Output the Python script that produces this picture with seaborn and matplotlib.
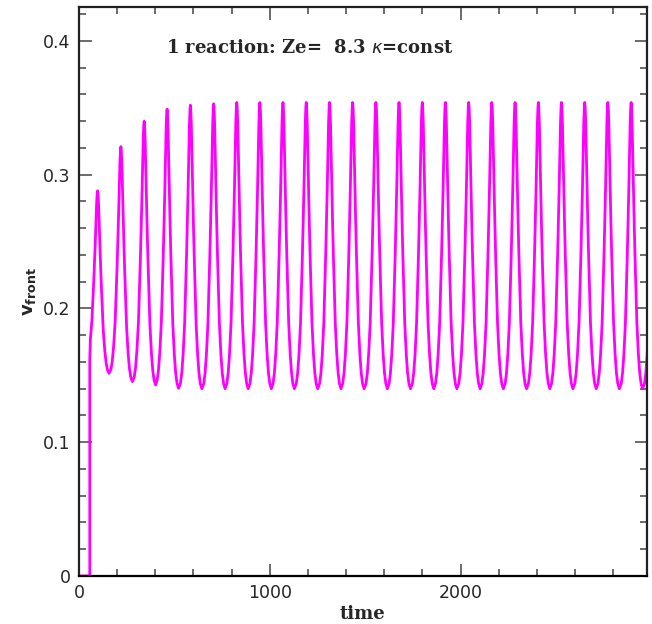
import numpy as np
import pandas as pd
import matplotlib
matplotlib.use('Agg')
import matplotlib.pyplot as plt
from matplotlib.ticker import MultipleLocator, FuncFormatter
import seaborn as sns

# valores
t_ignicao = 57.0          # instante do salto de 0 para v0
v_inicial = 0.1615
tempos_pico = [98, 220, 342, 462, 584, 706, 827, 948, 1069, 1191, 1313, 1434,
               1556, 1677, 1799, 1920, 2042, 2163, 2285, 2407, 2528, 2650, 2771, 2893,
               3015]
valores_pico = [0.288, 0.321, 0.340, 0.349, 0.352, 0.353, 0.354, 0.354, 0.354,
                0.354, 0.354, 0.354, 0.354, 0.354, 0.354, 0.354, 0.354, 0.354,
                0.354, 0.354, 0.354, 0.354, 0.354, 0.354, 0.354]
# vale depois de cada pico
valores_vale = [0.1515, 0.1453, 0.1428, 0.1403, 0.140, 0.140, 0.140, 0.140, 0.140,
                0.140, 0.140, 0.140, 0.140, 0.140, 0.140, 0.140, 0.140, 0.140,
                0.140, 0.140, 0.140, 0.140, 0.140, 0.140]
# perfil de um ciclo (tempo relativo ao pico, fração entre vale e pico)
perfil_dt = [-60, -52, -45, -38, -30, -25, -20, -16, -12, -8, -5, -2, 0,
             2, 5, 8, 12, 16, 20, 25, 30, 38, 45, 52, 60]
perfil_f = [0.0, 0.018, 0.055, 0.12, 0.23, 0.35, 0.47, 0.58, 0.70, 0.83, 0.93, 0.985, 1.0,
            0.985, 0.93, 0.83, 0.70, 0.58, 0.47, 0.35, 0.23, 0.12, 0.055, 0.018, 0.0]

# monta a curva
t = [0.0, t_ignicao, t_ignicao]
v = [0.0, 0.0, v_inicial]
for i, (tp, vp) in enumerate(zip(tempos_pico, valores_pico)):
    v_antes = v_inicial if i == 0 else valores_vale[i - 1]
    v_depois = valores_vale[i] if i < len(valores_vale) else 0.140
    for dt, f in zip(perfil_dt, perfil_f):
        if dt < 0:
            if i > 0 and dt == -60:
                continue
            if tp + dt <= t[-1]:
                continue
            base = v_antes
        else:
            if i == len(tempos_pico) - 1:
                continue
            base = v_depois
        t.append(tp + dt)
        v.append(base + f * (vp - base))

df = pd.DataFrame({'time': t, 'v': v})

sns.set_style('ticks')
fig = plt.figure(figsize=(6.52, 6.24), dpi=100)
ax = fig.add_axes([0.121, 0.077, 0.871, 0.912])

sns.lineplot(data=df, x='time', y='v', ax=ax, color='#ff00ff', lw=2.0,
             sort=False, estimator=None)

ax.set_xlim(0, 2975)
ax.set_ylim(0, 0.4255)
ax.xaxis.set_major_locator(MultipleLocator(1000))
ax.xaxis.set_minor_locator(MultipleLocator(200))
ax.yaxis.set_major_locator(MultipleLocator(0.1))
ax.yaxis.set_minor_locator(MultipleLocator(0.02))
ax.yaxis.set_major_formatter(FuncFormatter(lambda y, p: '0' if abs(y) < 1e-9 else f'{y:.1f}'))
ax.xaxis.set_major_formatter(FuncFormatter(lambda x, p: f'{x:.0f}'))

ax.tick_params(which='both', direction='in', top=True, right=True,
               color='#444444', labelsize=12.5, width=1.1)
ax.tick_params(which='major', length=9, pad=6)
ax.tick_params(which='minor', length=5)
for s in ax.spines.values():
    s.set_linewidth(1.6)
    s.set_color('#222222')
ax.spines['bottom'].set_color('black')

ax.set_xlabel('time', fontsize=13, fontweight='bold', family='DejaVu Serif', labelpad=2)
ax.set_ylabel(r'$\mathbf{v_{front}}$', fontsize=13, labelpad=4)

ax.text(0.407, 0.928, r'1 reaction: Ze=  8.3 $\kappa$=const', transform=ax.transAxes,
        ha='center', va='center', fontsize=13, fontweight='bold', family='DejaVu Serif')

fig.savefig('out.png', dpi=100)
